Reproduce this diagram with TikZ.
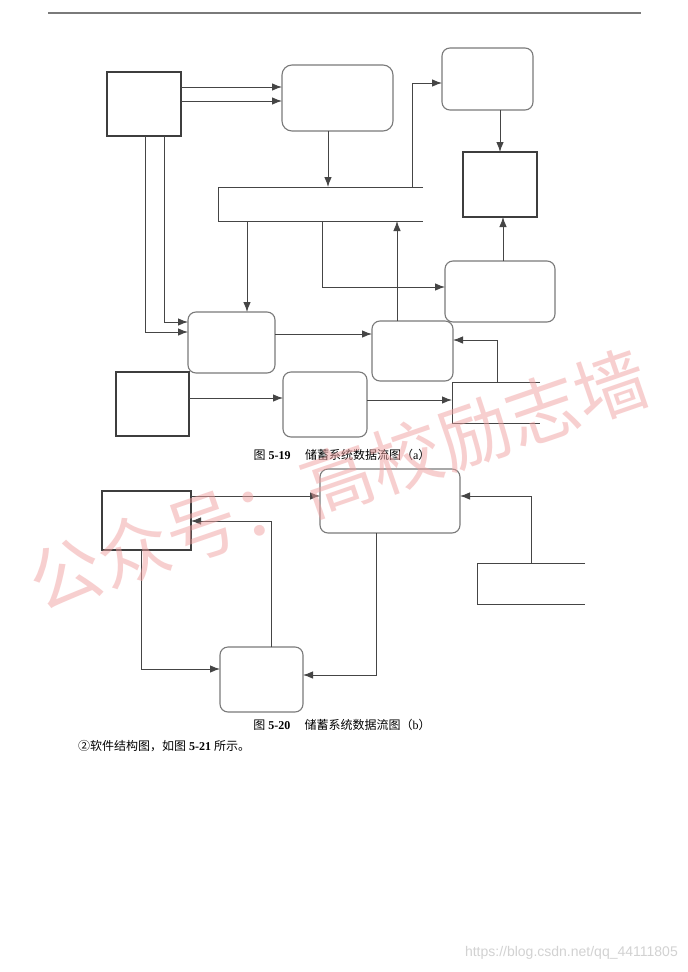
\documentclass[tikz,border=0pt]{standalone}
\usepackage{fontspec}
\setmainfont{Liberation Serif}
\newfontfamily\cjk{Noto Sans CJK SC}
\newfontfamily\urlfont{Liberation Sans}
\usepackage{xcolor}
\usepackage{tikz}
\usetikzlibrary{
  arrows.meta,
  positioning,
}
\definecolor{linegray}{HTML}{454545}
\definecolor{boxgray}{HTML}{7A7A7A}
\definecolor{wmpink}{HTML}{F0A0A0}
\definecolor{urlgray}{HTML}{D2D2D2}

\begin{document}
\begin{tikzpicture}[
    x=1pt, y=-1pt,
    extbox/.style={rectangle, draw=linegray!90!black, line width=1.4pt,
                   inner sep=0pt, outer sep=0pt},
    procbox/.style={rectangle, rounded corners=8pt, draw=boxgray, line width=1.1pt,
                    inner sep=0pt, outer sep=0pt},
    storebox/.style={rectangle, inner sep=0pt, outer sep=0pt},
    storeline/.style={draw=linegray, line width=1pt},
    flow/.style={draw=linegray, line width=0.9pt, -{Latex[length=10pt, width=7.5pt]}},
    caption/.style={font=\fontsize{12}{14}\selectfont, inner sep=0pt},
  ]
  \fill[white] (0,0) rectangle (688,972);
  \useasboundingbox (0,0) rectangle (688,972);

  \draw[draw=boxgray, line width=1.2pt] (48,13) -- (641,13);

  % figure (a)
  \node[extbox, minimum width=74pt, minimum height=64pt] (ext1) at (144,104) {};
  \node[procbox, rounded corners=10pt, minimum width=111pt, minimum height=66pt] (proc1) at (337.5,98) {};
  \node[storebox, minimum width=205pt, minimum height=34pt] (store1) at (320.5,204) {};
  \node[procbox, minimum width=91pt, minimum height=62pt] (proc2) at (487.5,79) {};
  \node[extbox, minimum width=74pt, minimum height=65pt] (ext2) at (500,184.5) {};
  \node[procbox, minimum width=110pt, minimum height=61pt] (proc3) at (500,291.5) {};
  \node[procbox, minimum width=87pt, minimum height=61pt] (proc4) at (231.5,342.5) {};
  \node[procbox, minimum width=81pt, minimum height=60pt] (proc5) at (412.5,351) {};
  \node[storebox, minimum width=88pt, minimum height=41pt] (store2) at (496,402.5) {};
  \node[extbox, minimum width=73pt, minimum height=64pt] (ext3) at (152.5,404) {};
  \node[procbox, minimum width=84pt, minimum height=65pt] (proc6) at (325,404.5) {};

  \draw[storeline] (store1.north east) -- (store1.north west) -- (store1.south west) -- (store1.south east);
  \draw[storeline] (store2.north east) -- (store2.north west) -- (store2.south west) -- (store2.south east);

  \draw[flow] (ext1.east |- 0,87) -- (proc1.west |- 0,87);
  \draw[flow] (ext1.east |- 0,101) -- (proc1.west |- 0,101);
  \draw[flow] (proc1.south -| 328,0) -- (store1.north -| 328,0);
  \draw[flow] (store1.north -| 412,0) |- (proc2.west |- 0,83);
  \draw[flow] (proc2.south -| 500,0) -- (ext2.north);
  \draw[flow] (proc3.north -| 503,0) -- (ext2.south -| 503,0);
  \draw[flow] (store1.south -| 247,0) -- (proc4.north -| 247,0);
  \draw[flow] (store1.south -| 322,0) |- (proc3.west |- 0,287);
  \draw[flow] (proc5.north -| 397,0) -- (store1.south -| 397,0);
  \draw[flow] (ext1.south -| 145,0) |- (proc4.west |- 0,332);
  \draw[flow] (ext1.south -| 164,0) |- (proc4.west |- 0,322);
  \draw[flow] (proc4.east |- 0,334) -- (proc5.west |- 0,334);
  \draw[flow] (store2.north -| 497,0) |- (proc5.east |- 0,340);
  \draw[flow] (ext3.east |- 0,398) -- (proc6.west |- 0,398);
  \draw[flow] (proc6.east |- 0,400) -- (store2.west |- 0,400);

  \node[caption] (cap1) at (342,455)
    {{\cjk 图} \textbf{5-19}\hspace{1.2em}{\cjk 储蓄系统数据流图（}a{\cjk ）}};

  % figure (b)
  \node[extbox, line width=1.1pt, minimum width=89pt, minimum height=59pt] (ext4) at (146.5,520.5) {};
  \node[procbox, minimum width=140pt, minimum height=64pt] (proc7) at (390,501) {};
  \node[procbox, minimum width=83pt, minimum height=65pt] (proc8) at (261.5,679.5) {};
  \node[storebox, minimum width=108pt, minimum height=41pt] (store3) at (531,583.5) {};

  \draw[storeline] (store3.north east) -- (store3.north west) -- (store3.south west) -- (store3.south east);

  \draw[flow] (ext4.east |- 0,496) -- (proc7.west |- 0,496);
  \draw[flow] (proc8.north -| 271,0) |- (ext4.east |- 0,521);
  \draw[flow] (ext4.south -| 141,0) |- (proc8.west |- 0,669);
  \draw[flow] (proc7.south -| 376,0) |- (proc8.east |- 0,675);
  \draw[flow] (store3.north -| 531,0) |- (proc7.east |- 0,496);

  \node[caption] (cap2) at (342,725)
    {{\cjk 图} \textbf{5-20}\hspace{1.2em}{\cjk 储蓄系统数据流图（}b{\cjk ）}};
  \node[caption, anchor=west] (note) at (78,746)
    {{\cjk ②软件结构图，如图} \textbf{5-21} {\cjk 所示。}};

  \node[font=\cjk\fontsize{72}{76}\selectfont, text=wmpink, opacity=0.5,
        rotate=19, inner sep=0pt] (mark) at (338,480) {公众号：高校励志墙};
  \node[font=\urlfont\fontsize{14}{16}\selectfont, text=urlgray, anchor=east,
        inner sep=0pt] (url) at (678,953) {https://blog.csdn.net/qq\_44111805};
\end{tikzpicture}
\end{document}
